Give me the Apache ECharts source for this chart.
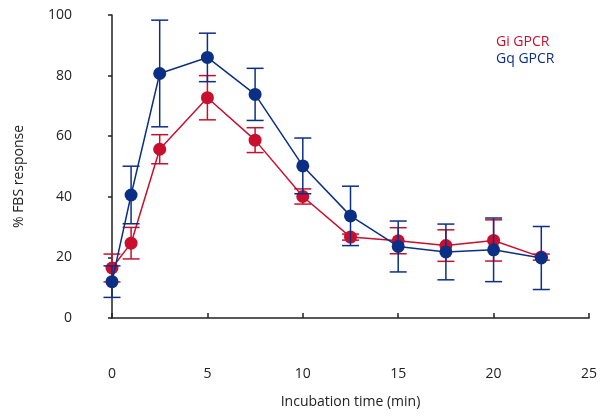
<!DOCTYPE html>
<html>
<head>
<meta charset="utf-8">
<script type="text/javascript" src="https://cdn.jsdelivr.net/npm/echarts@6/dist/echarts.min.js"></script>
<title></title>
<style>
  html, body { margin: 0; padding: 0; background: #fff; }
</style>
</head>
<body>
<div id="chart" style="width: 600px; height: 420px;"></div>

<script type="text/javascript">
// data
var time = [0, 1, 2.5, 5, 7.5, 10, 12.5, 15, 17.5, 20, 22.5];
var giMean = [16.5, 24.7, 55.7, 72.7, 58.7, 40.1, 26.7, 25.5, 23.9, 25.6, 20.1];
var giErr  = [4.6, 5.2, 4.8, 7.3, 4.1, 2.5, 1.0, 4.3, 5.2, 6.8, 1.0];
var gqMean = [12.0, 40.6, 80.7, 86.0, 73.8, 50.2, 33.7, 23.6, 21.8, 22.5, 19.8];
var gqErr  = [5.2, 9.5, 17.6, 8.0, 8.6, 9.2, 9.8, 8.4, 9.2, 10.5, 10.4];
var xTicks = [0, 5, 10, 15, 20, 25];
var yTicks = [0, 20, 40, 60, 80, 100];

var RED = '#c8102e';
var BLUE = '#0c2f86';
var FONT = 'Open Sans';

function pts(mean) {
  var out = [];
  for (var i = 0; i < time.length; i++) out.push([time[i], mean[i]]);
  return out;
}
function errs(mean, err) {
  var out = [];
  for (var i = 0; i < time.length; i++) out.push([time[i], mean[i], err[i]]);
  return out;
}

// error bar with caps
function errorBar(color) {
  return function (params, api) {
    var x = api.value(0), m = api.value(1), e = api.value(2);
    var top = api.coord([x, m + e]);
    var bot = api.coord([x, m - e]);
    var hw = 8.5;
    var st = { stroke: color, lineWidth: 1.5 };
    return {
      type: 'group',
      children: [
        { type: 'line', shape: { x1: top[0], y1: top[1], x2: bot[0], y2: bot[1] }, style: st },
        { type: 'line', shape: { x1: top[0] - hw, y1: top[1], x2: top[0] + hw, y2: top[1] }, style: st },
        { type: 'line', shape: { x1: bot[0] - hw, y1: bot[1], x2: bot[0] + hw, y2: bot[1] }, style: st }
      ]
    };
  };
}

var chart = echarts.init(document.getElementById('chart'));
chart.setOption({
  animation: false,
  textStyle: { fontFamily: FONT },
  grid: { left: 112, right: 5, top: 15, bottom: 102 },
  legend: {
    orient: 'vertical',
    left: 486,
    top: 30,
    itemWidth: 0,
    itemHeight: 0,
    itemGap: 3,
    icon: 'none',
    selectedMode: false,
    textStyle: { fontSize: 14, fontFamily: FONT },
    data: [
      { name: 'Gi GPCR', textStyle: { color: RED } },
      { name: 'Gq GPCR', textStyle: { color: BLUE } }
    ]
  },
  xAxis: {
    type: 'value',
    min: xTicks[0],
    max: xTicks[xTicks.length - 1],
    interval: 5,
    offset: 35,
    name: 'Incubation time (min)',
    nameLocation: 'middle',
    nameGap: 42,
    nameTextStyle: { fontSize: 14, color: '#222', fontFamily: FONT },
    axisLine: { lineStyle: { color: '#222', width: 1.5 } },
    axisTick: { inside: true, length: 5, lineStyle: { color: '#222', width: 1.5 } },
    axisLabel: { fontSize: 14, color: '#222', margin: 14 },
    splitLine: { show: false }
  },
  yAxis: {
    type: 'value',
    min: yTicks[0],
    max: yTicks[yTicks.length - 1],
    interval: 20,
    offset: 34,
    name: '% FBS response',
    nameLocation: 'middle',
    nameGap: 52,
    nameRotate: 90,
    nameTextStyle: { fontSize: 14, color: '#222', fontFamily: FONT, padding: [0, 20, 0, 0] },
    axisLine: { show: true, lineStyle: { color: '#222', width: 1.5 } },
    axisTick: { show: true, inside: false, length: 4, lineStyle: { color: '#222', width: 1.5 } },
    axisLabel: { fontSize: 14, color: '#222', margin: 6 },
    splitLine: { show: false }
  },
  series: [
    {
      name: 'Gi err',
      type: 'custom',
      renderItem: errorBar(RED),
      data: errs(giMean, giErr),
      z: 2
    },
    {
      name: 'Gi GPCR',
      type: 'line',
      data: pts(giMean),
      symbol: 'circle',
      symbolSize: 13,
      itemStyle: { color: RED },
      lineStyle: { color: RED, width: 1.5 },
      z: 3
    },
    {
      name: 'Gq err',
      type: 'custom',
      renderItem: errorBar(BLUE),
      data: errs(gqMean, gqErr),
      z: 4
    },
    {
      name: 'Gq GPCR',
      type: 'line',
      data: pts(gqMean),
      symbol: 'circle',
      symbolSize: 13,
      itemStyle: { color: BLUE },
      lineStyle: { color: BLUE, width: 1.5 },
      z: 5
    }
  ]
});
</script>
</body>
</html>
